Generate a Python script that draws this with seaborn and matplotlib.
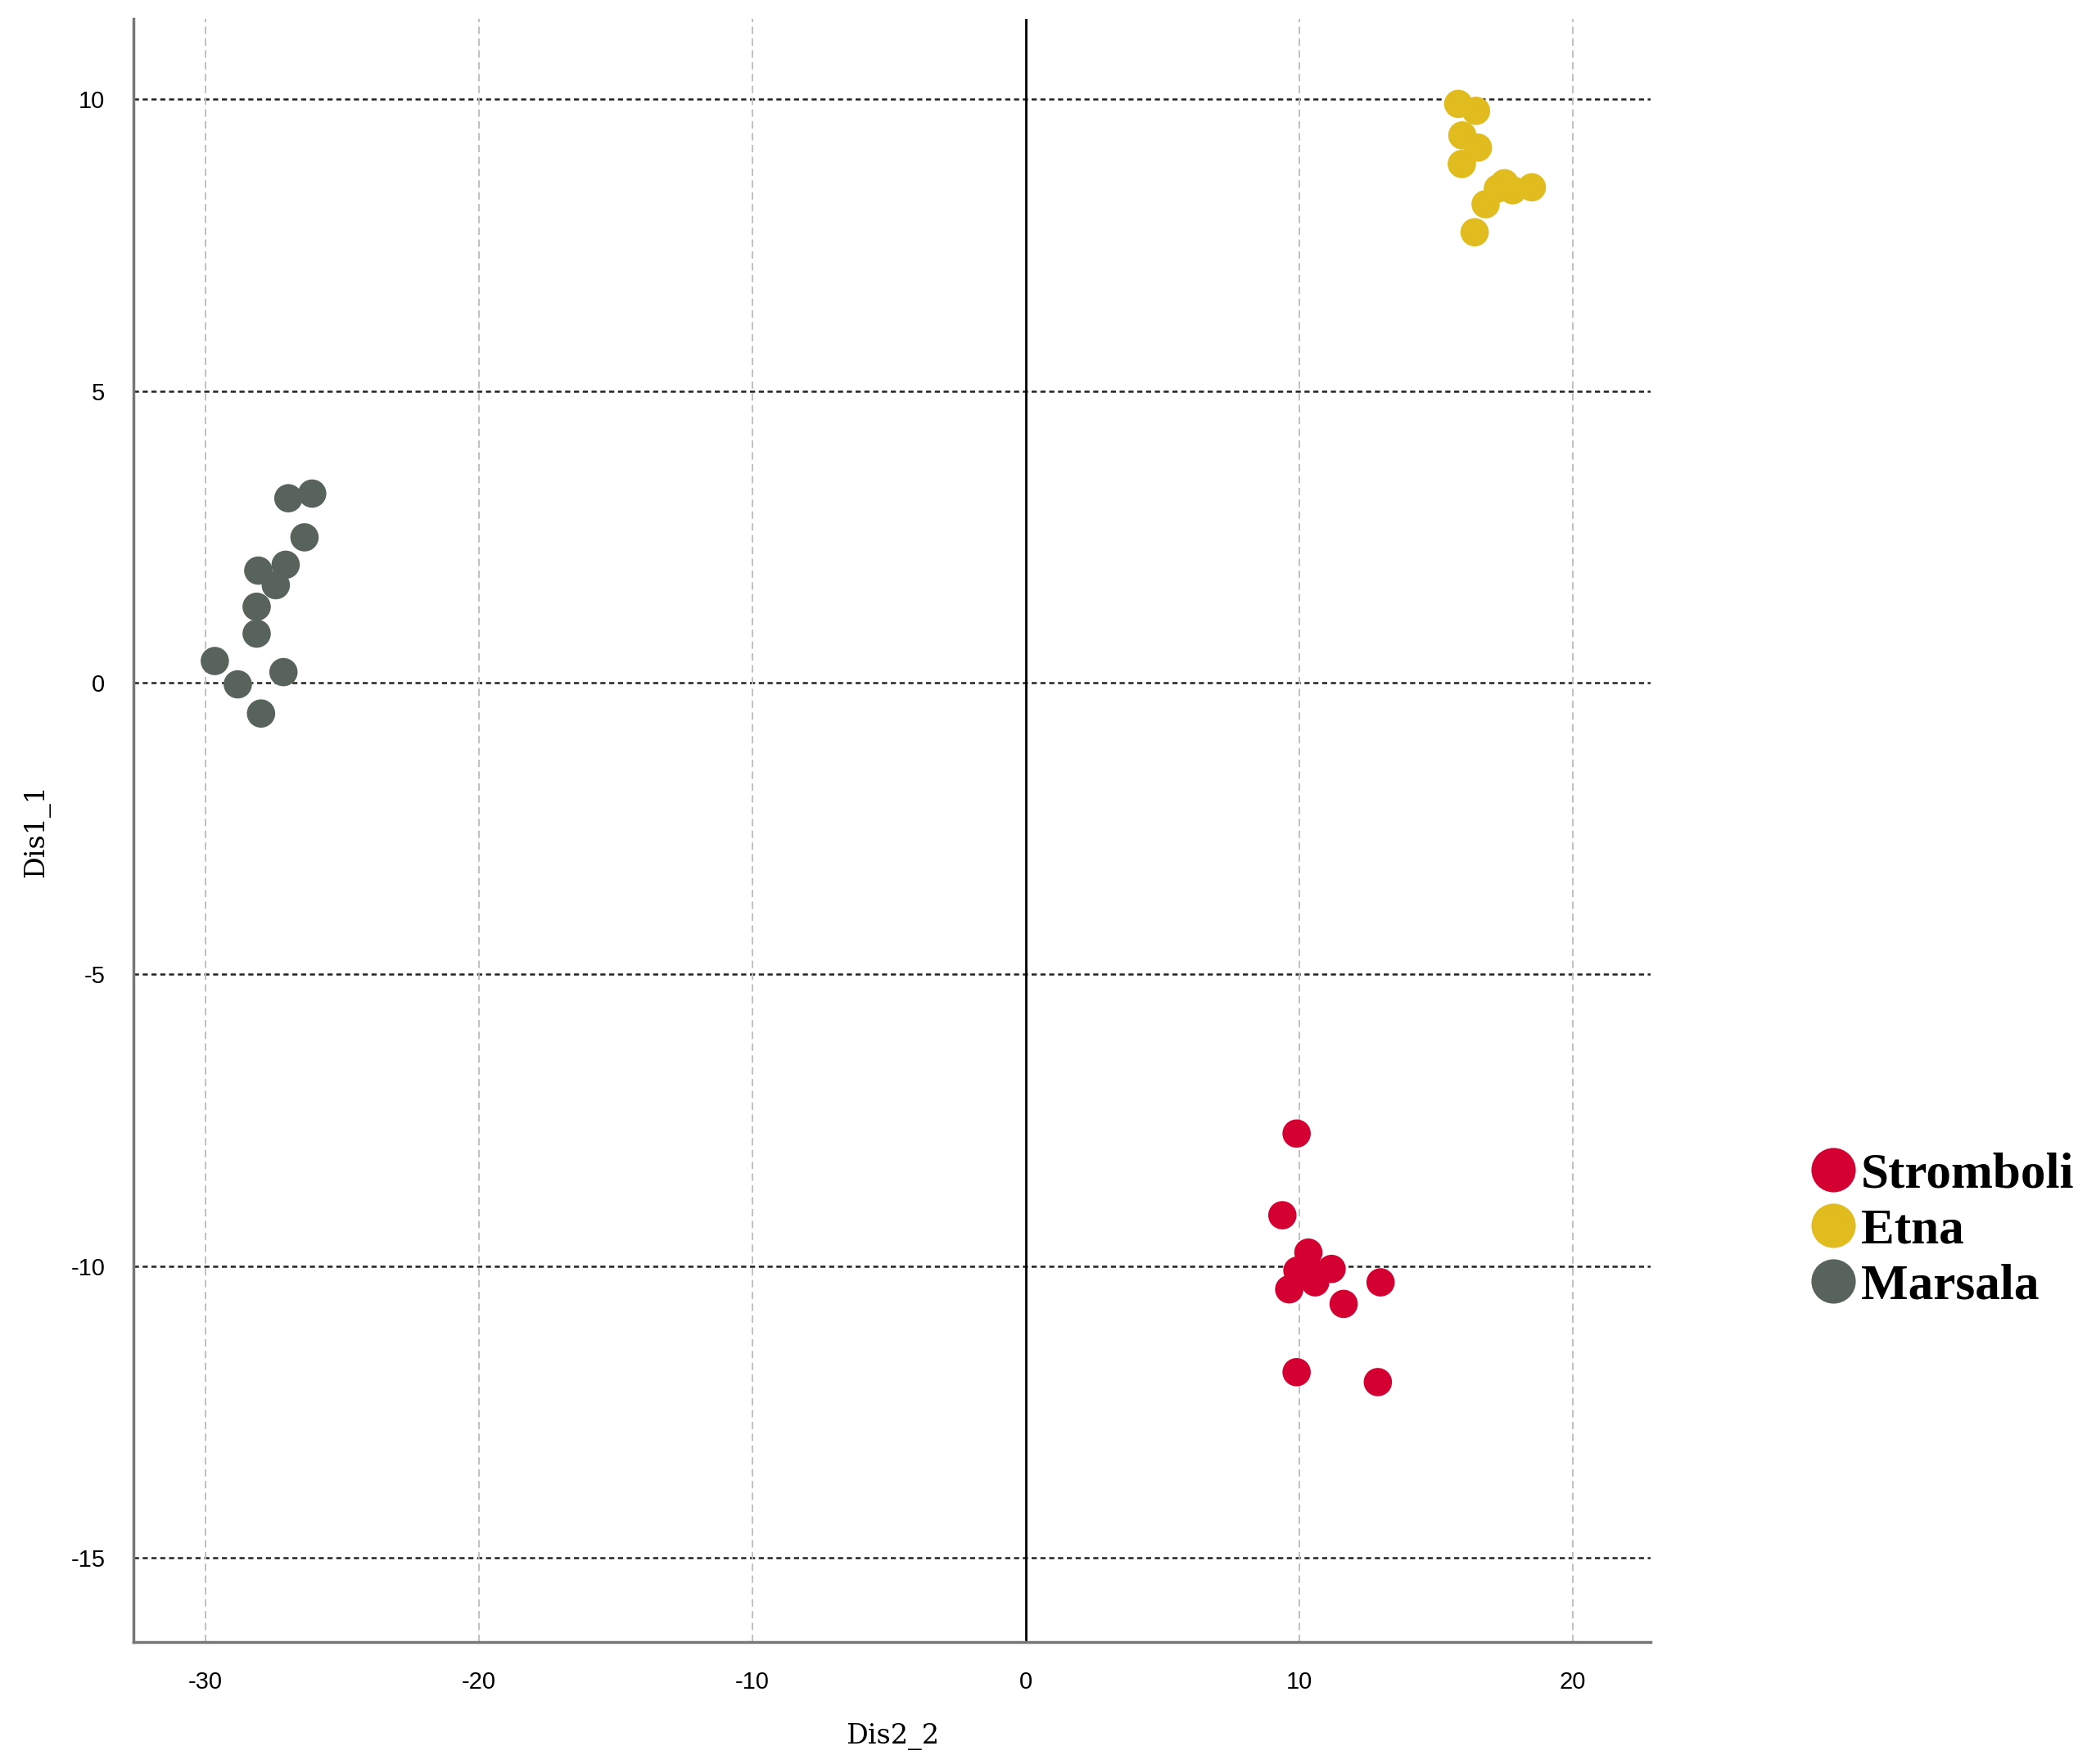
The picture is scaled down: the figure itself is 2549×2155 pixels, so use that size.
import pandas as pd
import numpy as np
import matplotlib.pyplot as plt
import seaborn as sns
from matplotlib.lines import Line2D

# group scores
stromboli_x = [9.90, 9.38, 10.33, 9.93, 11.18, 10.58, 9.63, 12.97, 11.62, 9.90, 12.87, 10.33]
stromboli_y = [-7.73, -9.13, -9.77, -10.08, -10.05, -10.28, -10.40, -10.28, -10.65, -11.82, -11.99, -10.05]
etna_x = [15.81, 16.46, 15.96, 16.53, 15.94, 17.26, 17.50, 17.80, 18.50, 16.81, 16.41]
etna_y = [9.92, 9.80, 9.38, 9.17, 8.89, 8.47, 8.56, 8.44, 8.49, 8.20, 7.72]
marsala_x = [-26.09, -26.96, -26.37, -28.06, -27.06, -27.42, -28.12, -28.12, -29.65, -28.81, -27.14, -27.96]
marsala_y = [3.24, 3.16, 2.49, 1.92, 2.02, 1.67, 1.30, 0.84, 0.37, -0.03, 0.18, -0.53]

groups = ['Stromboli', 'Etna', 'Marsala']
colors = ['#D50032', '#E1BC1F', '#58635C']
xticks = [-30, -20, -10, 0, 10, 20]
yticks = [10, 5, 0, -5, -10, -15]

df = pd.concat([
    pd.DataFrame({'Dis2_2': stromboli_x, 'Dis1_1': stromboli_y, 'group': 'Stromboli'}),
    pd.DataFrame({'Dis2_2': etna_x, 'Dis1_1': etna_y, 'group': 'Etna'}),
    pd.DataFrame({'Dis2_2': marsala_x, 'Dis1_1': marsala_y, 'group': 'Marsala'}),
])

sns.set_style('white')
plt.rcParams['axes.unicode_minus'] = False
plt.rcParams['text.color'] = 'black'
plt.rcParams['axes.labelcolor'] = 'black'
plt.rcParams['xtick.color'] = 'black'
plt.rcParams['ytick.color'] = 'black'
fig = plt.figure(figsize=(25.49, 21.55), dpi=100)
ax = fig.add_axes([0.064, 0.069, 0.727, 0.9204])

# grid lines first so the points sit on top
for y in yticks:
    ax.axhline(y, color='#222222', lw=1.8, ls=(0, (2.5, 1.8)), zorder=1)
for x in xticks:
    if x != 0:
        ax.axvline(x, color='#BBBBBB', lw=1.3, ls=(0, (5, 3)), zorder=1)
ax.axvline(0, color='black', lw=2, zorder=1)

sns.scatterplot(data=df, x='Dis2_2', y='Dis1_1', hue='group', hue_order=groups,
                palette=colors, s=620, edgecolor='none', alpha=1, ax=ax, zorder=3, legend=False)

ax.set_xlim(-32.62, 22.85)
ax.set_ylim(-16.45, 11.38)
ax.set_xticks(xticks)
ax.set_yticks(yticks)
ax.tick_params(axis='both', length=16, width=2, color='#333333', labelcolor='black',
               labelsize=21, pad=9)
for lab in ax.get_xticklabels() + ax.get_yticklabels():
    lab.set_family('Liberation Sans')

for side in ['top', 'right']:
    ax.spines[side].set_visible(False)
for side in ['left', 'bottom']:
    ax.spines[side].set_color('#777777')
    ax.spines[side].set_linewidth(2.5)

ax.set_xlabel('Dis2_2', family='DejaVu Serif', fontsize=24, labelpad=26, color='black')
ax.set_ylabel('Dis1_1', family='DejaVu Serif', fontsize=24, labelpad=18, color='black')

handles = [Line2D([], [], marker='o', ls='', color=c, markeredgecolor='none', markersize=39)
           for c in colors]
leg = fig.legend(handles, groups, loc='center left', bbox_to_anchor=(0.846, 0.3023),
                 frameon=False, handlelength=0.9, handletextpad=0.1, labelcolor='black',
                 labelspacing=0.2, prop={'family': 'Liberation Serif', 'weight': 'bold', 'size': 44})

fig.savefig('out.png', dpi=100)
